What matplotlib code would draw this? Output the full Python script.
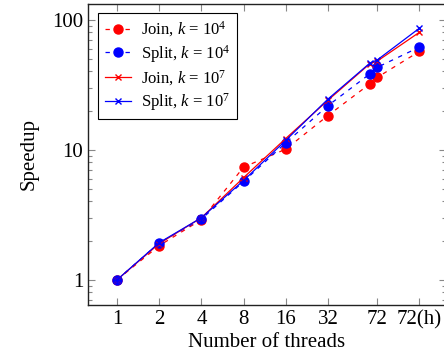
import matplotlib
matplotlib.use("Agg")
import matplotlib.pyplot as plt
from matplotlib.ticker import FixedLocator, LogLocator, NullFormatter

plt.rcParams['font.family'] = ['Liberation Serif', 'DejaVu Serif']
plt.rcParams['mathtext.fontset'] = 'custom'
plt.rcParams['mathtext.rm'] = 'Liberation Serif'
plt.rcParams['mathtext.it'] = 'Liberation Serif:italic'

threads = [1, 2, 4, 8, 16, 32, 64, 72, 144]
tick_pos = [1, 2, 4, 8, 16, 32, 72, 144]
tick_labels = ["1", "2", "4", "8", "16", "32", "72", "72(h)"]

join_k4 = [1.0, 1.83, 2.9, 7.35, 10.1, 18.3, 32.2, 36.0, 57.0]
split_k4 = [1.0, 1.92, 2.93, 5.7, 11.3, 21.8, 38.4, 43.0, 61.5]
join_k7 = [1.0, 1.9, 3.0, 6.1, 12.2, 24.0, 46.0, 48.0, 80.0]
split_k7 = [1.0, 1.93, 3.0, 5.8, 11.8, 24.5, 46.5, 49.0, 86.0]

fig = plt.figure(figsize=(4.44, 3.62), dpi=100)
ax = fig.add_axes([88/444, 1-305/362, 358/444, 301/362])

dash = (0, (3.5, 4.5))
ax.plot(threads, join_k4, color='#ff0000', ls=dash, lw=0.9, marker='o', ms=6.5,
        label=r'Join, $k$ = $10^4$')
ax.plot(threads, split_k4, color='#0000ff', ls=dash, lw=0.9, marker='o', ms=6.5,
        label=r'Split, $k$ = $10^4$')
ax.plot(threads, join_k7, color='#ff0000', ls='-', lw=0.9, marker='x', ms=5, mew=1,
        label=r'Join, $k$ = $10^7$')
ax.plot(threads, split_k7, color='#0000ff', ls='-', lw=0.9, marker='x', ms=5, mew=1,
        label=r'Split, $k$ = $10^7$')

ax.set_xscale('log', base=2)
ax.set_yscale('log')
ax.set_xlim(0.62, 223)
ax.set_ylim(0.64, 132)

ax.xaxis.set_major_locator(FixedLocator(tick_pos))
ax.set_xticklabels(tick_labels)
ax.xaxis.set_minor_locator(FixedLocator([]))
ax.yaxis.set_major_locator(FixedLocator([1, 10, 100]))
ax.set_yticklabels(["1", "10", "100"])
ax.yaxis.set_minor_locator(LogLocator(base=10, subs=range(2, 10)))
ax.yaxis.set_minor_formatter(NullFormatter())

ax.tick_params(which='both', direction='in', top=True, right=True, color='#888888',
               labelsize=15, width=0.8)
ax.tick_params(which='major', length=5)
ax.tick_params(which='minor', length=3)
for s in ax.spines.values():
    s.set_linewidth(1.0)
    s.set_color('#222222')

ax.set_xlabel('Number of threads', fontsize=15, labelpad=3)
ax.set_ylabel('Speedup', fontsize=15, labelpad=10)

leg = ax.legend(loc='upper left', fontsize=12, frameon=True, fancybox=False,
                edgecolor='black', framealpha=1, borderpad=0.4, handlelength=1.6,
                handletextpad=0.6, labelspacing=0.2, borderaxespad=0,
                bbox_to_anchor=(0.028, 0.97))
leg.get_frame().set_linewidth(0.8)

fig.savefig('out.png', dpi=100)
